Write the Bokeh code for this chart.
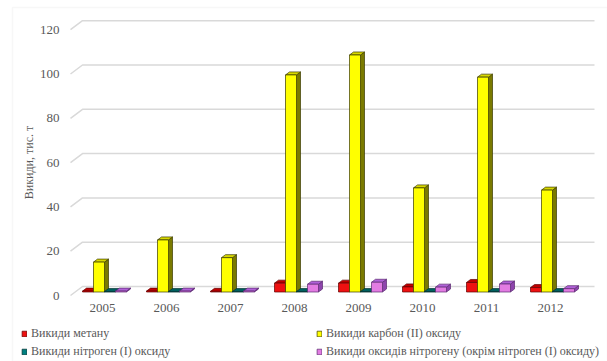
from bokeh.plotting import figure
from bokeh.models import Range1d, FixedTicker, Legend, LegendItem, BoxAnnotation
from bokeh.embed import file_html
from bokeh.resources import INLINE

# ---------------- data ----------------
years = ["2005", "2006", "2007", "2008", "2009", "2010", "2011", "2012"]
methane = [0.4, 0.4, 0.3, 4.0, 4.0, 2.3, 4.3, 2.0]
carbon_monoxide = [13.5, 23.5, 15.5, 98.0, 107.0, 47.0, 97.0, 46.0]
nitrous_oxide = [0.2, 0.2, 0.2, 0.2, 0.2, 0.2, 0.2, 0.2]
nitrogen_oxides = [0.4, 0.4, 0.4, 3.5, 4.4, 2.2, 3.6, 1.5]
y_ticks = [0, 20, 40, 60, 80, 100, 120]

series_labels = [
    "Викиди метану",
    "Викиди карбон (ІІ) оксиду",
    "Викиди нітроген (І) оксиду",
    "Викиди оксидів нітрогену (окрім нітроген (І) оксиду)",
]
series_values = [methane, carbon_monoxide, nitrous_oxide, nitrogen_oxides]

# ---------------- style ----------------
front_colors = ["#EE1111", "#FFFF00", "#008080", "#E27CE2"]
side_colors = ["#8B0000", "#7A7A00", "#004848", "#8E44AD"]
top_colors = ["#C00000", "#D8D800", "#006060", "#B060D8"]
edge_colors = ["#600000", "#3A3A00", "#003030", "#5A2A70"]

FONT = "Liberation Serif"
TXT = "#595959"

W, H = 607, 361
PX_X = 64.0      # px per category
PX_Y = 2.215     # px per value unit
LEFT_PX = 70                    # front-plane left edge (canvas px)
TOP_PX, FLOOR_PX = 18, 297      # top of wall / front floor (canvas px)
WALL_DX = 12 / PX_X
WALL_DY = 9 / PX_Y
BAR_W = 11 / PX_X
BAR_DX = 4 / PX_X
BAR_DY = 3 / PX_Y
BASE = 3.5 / PX_Y
SHIFT = 2 / PX_X
FLOOR = -2 / PX_Y

x0 = -0.5 - LEFT_PX / PX_X
x1 = x0 + W / PX_X
y1 = FLOOR + FLOOR_PX / PX_Y
y0 = FLOOR - (H - FLOOR_PX) / PX_Y

p = figure(width=W, height=H, output_backend="svg", toolbar_location=None,
           x_range=Range1d(x0, x1), y_range=Range1d(y0, y1), min_border=0)
p.background_fill_color = "white"
p.border_fill_color = "white"
p.outline_line_color = None
p.xgrid.visible = False
p.ygrid.visible = False

# faint chart border (document frame, left and top)
p.add_layout(BoxAnnotation(left=x0 + 12 / PX_X, top=y1 - 7 / PX_Y,
                           fill_alpha=0, line_color="#E3E3E3", line_width=1.5))

# gridlines (3D back wall with slanted front part)
gx, gy = [], []
for t in y_ticks:
    gx.append([-0.5, -0.5 + WALL_DX, 7.5 + WALL_DX])
    gy.append([t, t + WALL_DY, t + WALL_DY])
p.multi_line(gx, gy, line_color="#D9D9D9", line_width=1.5)

# 3D bars
front_renderers = []
for s, vals in enumerate(series_values):
    lefts, rights, tops, bottoms = [], [], [], []
    side_x, side_y, top_x, top_y = [], [], [], []
    for k, v in enumerate(vals):
        l = k + SHIFT + (s - 2) * BAR_W
        r = l + BAR_W
        b = BASE
        t = BASE + v
        lefts.append(l); rights.append(r); bottoms.append(b); tops.append(t)
        side_x.append([r, r + BAR_DX, r + BAR_DX, r])
        side_y.append([b, b + BAR_DY, t + BAR_DY, t])
        top_x.append([l, r, r + BAR_DX, l + BAR_DX])
        top_y.append([t, t, t + BAR_DY, t + BAR_DY])
    p.patches(side_x, side_y, fill_color=side_colors[s], line_color=edge_colors[s], line_width=0.7)
    p.patches(top_x, top_y, fill_color=top_colors[s], line_color=edge_colors[s], line_width=0.7)
    fr = p.quad(left=lefts, right=rights, bottom=bottoms, top=tops,
                fill_color=front_colors[s], line_color=edge_colors[s], line_width=0.7)
    front_renderers.append(fr)

# axes (fixed inside the full-canvas frame)
p.yaxis.fixed_location = -0.5
p.yaxis.bounds = (y_ticks[0], y_ticks[-1])
p.yaxis.ticker = FixedTicker(ticks=y_ticks)
p.yaxis.axis_line_color = None
p.yaxis.major_tick_line_color = None
p.yaxis.minor_tick_line_color = None
p.yaxis.major_tick_out = 0
p.yaxis.major_label_standoff = 11
p.yaxis.major_label_text_font = FONT
p.yaxis.major_label_text_font_size = "13px"
p.yaxis.major_label_text_color = TXT
p.yaxis.axis_label = "Викиди, тис. т"
p.yaxis.axis_label_text_font = FONT
p.yaxis.axis_label_text_font_style = "normal"
p.yaxis.axis_label_text_font_size = "12px"
p.yaxis.axis_label_text_color = TXT
p.yaxis.axis_label_standoff = 1

p.xaxis.fixed_location = FLOOR
p.xaxis.ticker = FixedTicker(ticks=list(range(len(years))))
p.xaxis.major_label_overrides = {i: y for i, y in enumerate(years)}
p.xaxis.axis_line_color = None
p.xaxis.major_tick_line_color = None
p.xaxis.minor_tick_line_color = None
p.xaxis.major_tick_out = 0
p.xaxis.major_label_standoff = 6
p.xaxis.major_label_text_font = FONT
p.xaxis.major_label_text_font_size = "13px"
p.xaxis.major_label_text_color = TXT

# legends
def make_legend(idx, loc):
    lg = Legend(items=[LegendItem(label=series_labels[i], renderers=[front_renderers[i]]) for i in idx],
                location=loc, orientation="vertical")
    lg.border_line_color = None
    lg.background_fill_alpha = 0
    lg.padding = 0
    lg.margin = 0
    lg.spacing = 3
    lg.glyph_width = 6
    lg.glyph_height = 7
    lg.label_standoff = 4
    lg.label_height = 14
    lg.label_text_font = FONT
    lg.label_text_font_size = "12px"
    lg.label_text_color = TXT
    return lg

p.add_layout(make_legend([0, 2], (21, 2)))
p.add_layout(make_legend([1, 3], (316, 2)))

open("out.html", "w").write(file_html(p, INLINE))
